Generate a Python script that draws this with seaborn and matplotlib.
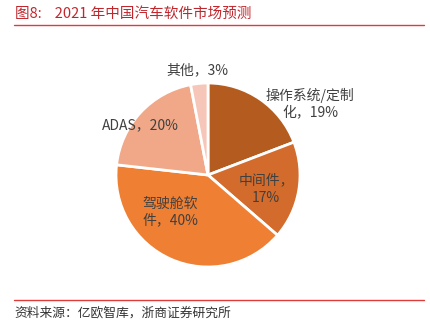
import matplotlib
matplotlib.use("Agg")
import matplotlib.pyplot as plt
import seaborn as sns
import numpy as np

categories = ["操作系统/定制化", "中间件", "驾驶舱软件", "ADAS", "其他"]
values = [19, 17, 40, 20, 3]
label_texts = ["操作系统/定制\n化，19%", "中间件，\n17%", "驾驶舱软\n件，40%", "ADAS，20%", "其他，3%"]
colors = ["#B45B20", "#D26B2B", "#EE7F33", "#F0A888", "#F6C7B8"]

sns.set_theme(style="white")
plt.rcParams['font.family'] = ['Noto Sans CJK SC', 'DejaVu Sans']

W, H = 431, 335
fig = plt.figure(figsize=(W / 100, H / 100), dpi=100)
ax = fig.add_axes([0, 0, 1, 1])
ax.set_xlim(0, W)
ax.set_ylim(0, H)
ax.axis("off")

cx, cy, r = 208, H - 175, 92
wedges, _ = ax.pie(values, startangle=90, counterclock=False, colors=colors,
                   center=(cx, cy), radius=r, frame=True,
                   wedgeprops=dict(edgecolor="white", linewidth=2))
ax.set_xlim(0, W)
ax.set_ylim(0, H)
ax.set_aspect("equal")
ax.axis("off")

# label positions (pixel, image coords)
label_pos = [(310, 104), (266, 189), (170, 212), (140, 125), (197, 70)]
for txt, (x, y) in zip(label_texts, label_pos):
    ax.text(x, H - y, txt, ha="center", va="center", fontsize=10,
            color="#404040", linespacing=1.3)

# title
fig.text(15 / W, 1 - 14 / H, "图8:    2021 年中国汽车软件市场预测", ha="left", va="center",
         fontsize=10.5, color="#C0272D")
ax.plot([14, 424], [H - 25, H - 25], color="#E03A3A", lw=1)
# footer
ax.plot([14, 424], [H - 300, H - 300], color="#E03A3A", lw=1)
fig.text(14 / W, 1 - 313 / H, "资料来源：亿欧智库，浙商证券研究所", ha="left", va="center",
         fontsize=9.2, color="#333333")

fig.savefig("out.png", dpi=100, facecolor="white")
